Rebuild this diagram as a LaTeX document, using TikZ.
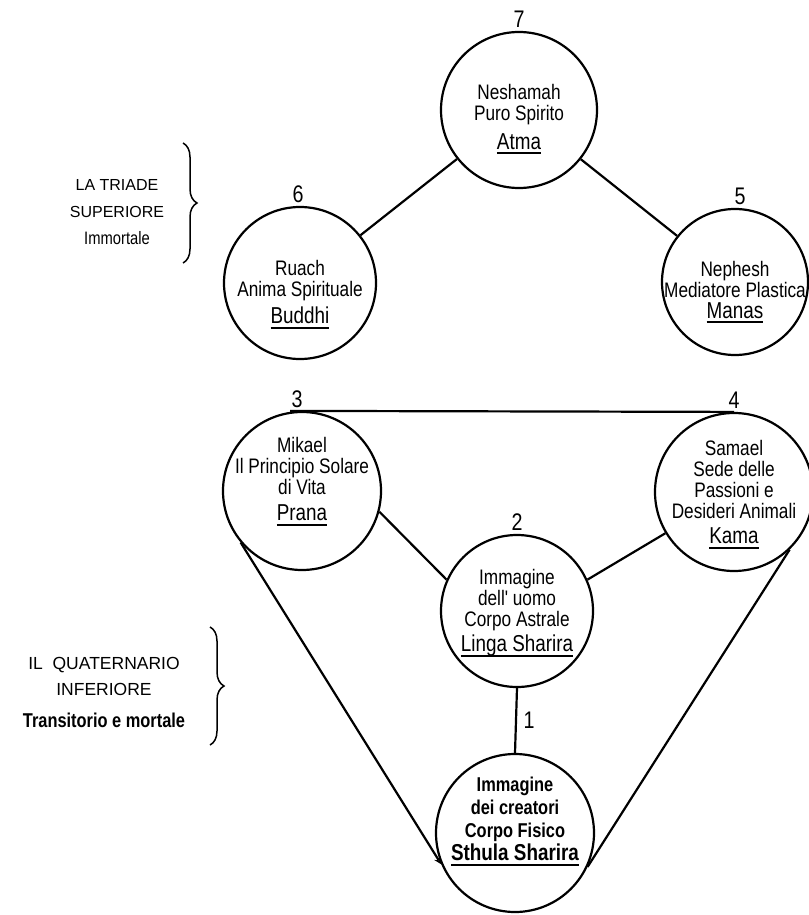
\documentclass[tikz,border=0pt]{standalone}
\usepackage{fontspec}
\setmainfont{Liberation Sans}
\newfontfamily\hand{Liberation Sans}[FakeStretch=0.82]
\usetikzlibrary{arrows,positioning,calc,decorations.pathreplacing}

\newsavebox\namebox
\newcommand\nameline[1]{\sbox\namebox{#1}\rlap{\smash{\rule[-5pt]{\wd\namebox}{2pt}}}\usebox\namebox}
\newcommand\named[1]{{\fontsize{23}{24}\selectfont\nameline{#1}}}

\begin{document}
\begin{tikzpicture}[
    x=1pt, y=-1pt,
    orb/.style={circle, draw, line width=2.2pt, minimum size=154pt, inner sep=0pt},
    words/.style={font=\hand\fontsize{21}{21}\selectfont, align=center, inner sep=0pt},
    num/.style={font=\hand\fontsize{24}{24}\selectfont},
    heading/.style={font=\fontsize{16}{27}\selectfont, align=center},
    link/.style={line width=2.2pt},
    curly/.style={decorate, decoration={brace, amplitude=14pt}, line width=1.5pt}
]
    \useasboundingbox (0,0) rectangle (808,915);

    % Circles
    \node[orb, minimum size=156pt] (atma) at (519,110) {};
    \node[orb, minimum size=152pt] (buddhi) at (300,283) {};
    \node[orb, minimum size=146pt] (manas) at (735,282) {};
    \node[orb, minimum size=158pt] (prana) at (302,491) {};
    \node[orb, minimum size=158pt] (kama) at (734,492) {};
    \node[orb, minimum size=152pt] (linga) at (517,611) {};
    \node[orb, minimum size=158pt] (sthula) at (515,833) {};

    % Texts in the circles
    \node[words] (atmatext) at ([yshift=-7pt]atma.center) {Neshamah\\Puro Spirito\\[8pt]\named{Atma}};
    \node[words] (buddhitext) at ([yshift=-9pt]buddhi.center) {Ruach\\Anima Spirituale\\[5pt]\named{Buddhi}};
    \node[words] (manastext) at ([yshift=-8pt]manas.center) {Nephesh\\Mediatore Plastica\\\named{Manas}};
    \node[words] (pranatext) at ([yshift=12pt]prana.center) {Mikael\\Il Principio Solare\\di Vita\\[5pt]\named{Prana}};
    \node[words] (kamatext) at (kama.center) {Samael\\Sede delle\\Passioni e\\Desideri Animali\\[4pt]\named{Kama}};
    \node[words] (lingatext) at ([yshift=-2pt]linga.center) {Immagine\\dell' uomo\\Corpo Astrale\\[3pt]\named{Linga Sharira}};
    \node[words, font=\hand\bfseries\fontsize{20}{23}\selectfont] (sthulatext) at ([yshift=14pt]sthula.center) {Immagine\\dei creatori\\Corpo Fisico\\\named{\bfseries Sthula Sharira}};

    % Numbers
    \node[num, above=0pt of atma] (n7) {7};
    \node[num, above=0pt of buddhi, xshift=-2pt] (n6) {6};
    \node[num, above=0pt of manas, xshift=5pt] (n5) {5};
    \node[num, above=0pt of prana, xshift=-5pt] (n3) {3};
    \node[num, above=0pt of kama] (n4) {4};
    \node[num, above=0pt of linga] (n2) {2};
    \node[num, xshift=13pt] (n1) at ($(linga.south)!0.5!(sthula.north)$) {1};

    % Lines
    \draw[link] (atma) -- (buddhi);
    \draw[link] (atma) -- (manas);
    \draw[link] ([xshift=-12pt]prana.north) -- (kama.north);
    \draw[link] (prana.345) -- (linga.156);
    \draw[link] (kama.211) -- (linga.24);
    \draw[link] (linga.south) -- (sthula.north);
    \draw[link, ->, >=stealth] (prana.220) -- (sthula.203);
    \draw[link] (kama.314) -- (sthula.335);

    % Left side
    \node[heading] (triade) at (117,212) {LA TRIADE\\SUPERIORE\\{\hand\fontsize{18}{20}\selectfont Immortale}};
    \coordinate (tbtop) at (183,143);
    \coordinate (tbbot) at (183,263);
    \draw[curly] (tbtop) -- (tbbot);

    \node[heading, font=\fontsize{17.5}{26}\selectfont] (quater) at (104,692) {IL\ \ QUATERNARIO\\INFERIORE\\[6pt]{\hand\bfseries\fontsize{20}{20}\selectfont Transitorio e mortale}};
    \coordinate (qbtop) at (210,627);
    \coordinate (qbbot) at (210,745);
    \draw[curly] (qbtop) -- (qbbot);
\end{tikzpicture}
\end{document}
